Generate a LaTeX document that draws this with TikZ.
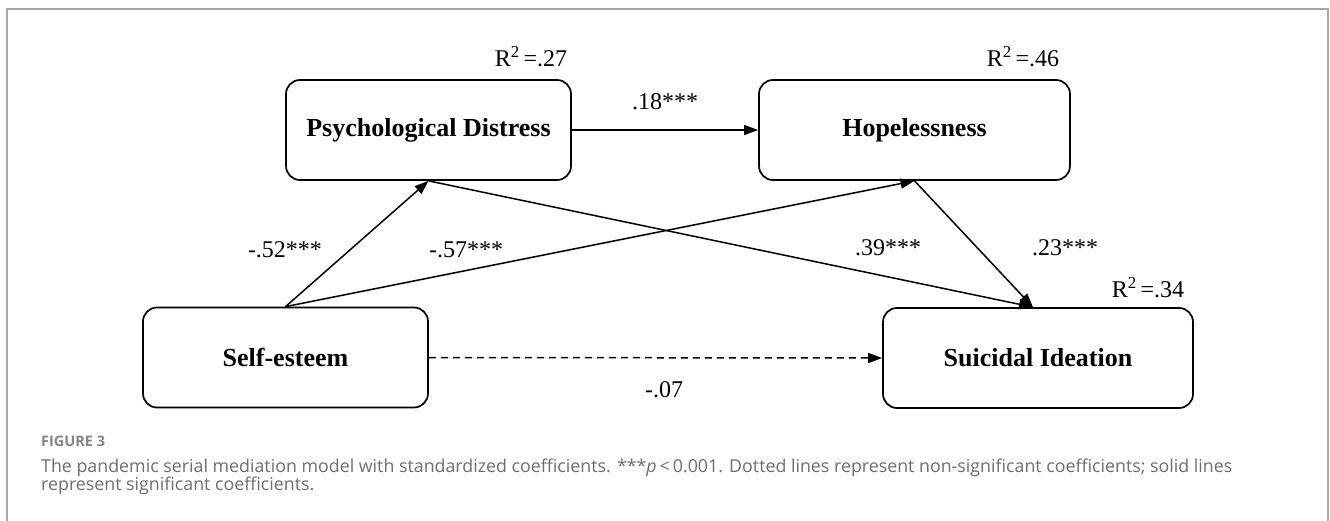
\documentclass[tikz,border=0pt]{standalone}
\usepackage{fontspec}
\setmainfont{Liberation Serif}
\newfontfamily\capfont{Open Sans}
\usetikzlibrary{arrows.meta,calc}
\definecolor{framegray}{HTML}{A8A8A8}
\definecolor{capgray}{HTML}{6E6E6E}
\begin{document}
\begin{tikzpicture}[x=1pt,y=-1pt,
  box/.style={draw, line width=1.7pt, rounded corners=14pt, minimum height=100pt,
    font=\fontsize{26}{30}\selectfont\bfseries, inner sep=0pt},
  lab/.style={font=\fontsize{24}{28}\selectfont, inner sep=0pt},
  conn/.style={line width=1.5pt, -{Triangle[length=14pt,width=10pt]}},
  capstyle/.style={font=\capfont\fontsize{17.8}{21}\selectfont, text=capgray, inner sep=0pt, anchor=base west}]
\useasboundingbox (0,0) rectangle (1330,521);
\fill[white] (0,0) rectangle (1330,521);
\draw[framegray, line width=1.3pt] (7,521) -- (7,9) -- (1328,9) -- (1328,521);

\node[box, minimum width=285pt] (pd) at (428.5,130) {Psychological Distress};
\node[box, minimum width=311pt] (hp) at (914.5,130) {Hopelessness};
\node[box, minimum width=285pt] (se) at (285.5,357.5) {Self-esteem};
\node[box, minimum width=310pt] (si) at (1038,358) {Suicidal Ideation};

\node[lab] (r1) at (531,57) {R\textsuperscript{2}\,=.27};
\node[lab] (r2) at (1023,57) {R\textsuperscript{2}\,=.46};
\node[lab] (r3) at (1148,288) {R\textsuperscript{2}\,=.34};
\node[lab] (l1) at (665,102) {.18***};
\node[lab] (l2) at (285,250) {-.52***};
\node[lab] (l3) at (466,250) {-.57***};
\node[lab] (l4) at (888,248) {.39***};
\node[lab] (l5) at (1065,248) {.23***};
\node[lab] (l6) at (664,390) {-.07};

\coordinate (siin) at ($(si.north)+(-5,0)$);
\draw[conn] (se.north) -- (pd.south);
\draw[conn] (se.north) -- (hp.south);
\draw[conn] (pd.south) -- (siin);
\draw[conn] (hp.south) -- (siin);
\draw[conn] (pd.east) -- (hp.west);
\draw[conn, dash pattern=on 7pt off 5pt] (se.east) -- (si.west);

\node[capstyle, font=\capfont\bfseries\fontsize{14.5}{17}\selectfont, text=capgray!85!white] (fig) at (41,446) {FIGURE 3};
\node[capstyle] (cap1) at (41,472) {The pandemic serial mediation model with standardized coefficients. ***\textit{p}\,<\,0.001. Dotted lines represent non-significant coefficients; solid lines};
\node[capstyle] (cap2) at (41,490) {represent significant coefficients.};
\end{tikzpicture}
\end{document}
